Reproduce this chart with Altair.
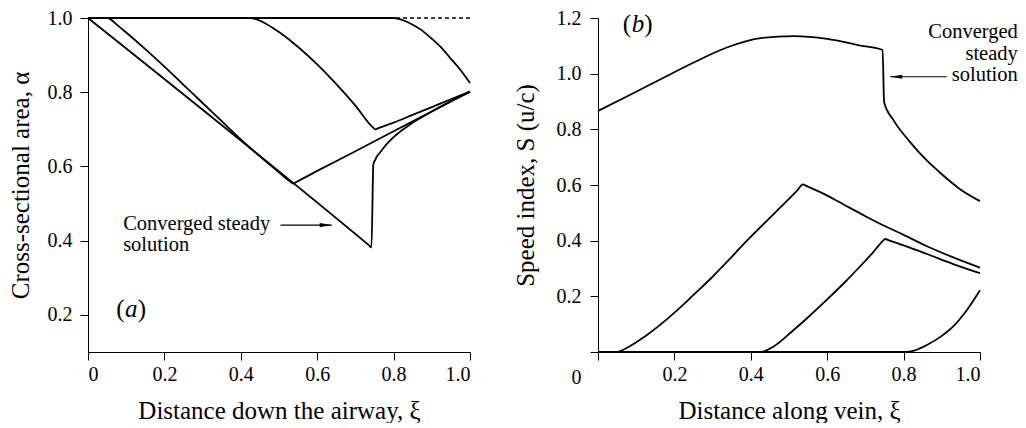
import altair as alt
import pandas as pd

FONT = "Liberation Serif"

# ---------------- Panel (a): cross-sectional area ----------------
xi_init = [0.0, 1.0]
alpha_init = [1.0, 1.0]

xi_a1 = [0.0, 0.8, 0.825, 0.85, 0.875, 0.9, 0.925, 0.95, 0.975, 1.0]
alpha_a1 = [1.0, 1.0, 0.994, 0.982, 0.966, 0.944, 0.92, 0.89, 0.86, 0.825]

xi_a2 = [0.0, 0.424, 0.44, 0.47, 0.5, 0.55, 0.6, 0.65, 0.7, 0.745, 0.752, 0.76, 0.8, 0.85, 0.9, 0.95, 1.0]
alpha_a2 = [1.0, 1.0, 0.997, 0.982, 0.962, 0.922, 0.875, 0.822, 0.764, 0.706, 0.700, 0.703, 0.718, 0.739, 0.760, 0.781, 0.802]

xi_a3 = [0.0, 0.05, 0.08, 0.1, 0.15, 0.2, 0.25, 0.3, 0.35, 0.4, 0.45, 0.5, 0.53, 0.537, 0.545, 0.6, 0.7, 0.8, 0.9, 1.0]
alpha_a3 = [1.0, 1.0, 0.978, 0.961, 0.916, 0.869, 0.82, 0.771, 0.722, 0.673, 0.627, 0.584, 0.559, 0.554, 0.558,
            0.588, 0.641, 0.695, 0.748, 0.802]

xi_aconv = [0.0, 0.735, 0.742, 0.747, 0.752, 0.757, 0.764, 0.78, 0.8, 0.843, 0.9, 0.95, 1.0]
alpha_aconv = [1.0, 0.388, 0.382, 0.606, 0.618, 0.628, 0.637, 0.658, 0.679, 0.713, 0.748, 0.776, 0.801]

# ---------------- Panel (b): speed index ----------------
xi_s1 = [0.0, 0.804, 0.83, 0.861, 0.9, 0.93, 0.96, 1.0]
s_s1 = [0.0, 0.0, 0.006, 0.025, 0.058, 0.092, 0.14, 0.222]

xi_s2 = [0.0, 0.426, 0.46, 0.513, 0.55, 0.6, 0.65, 0.687, 0.72, 0.745, 0.752, 0.76, 0.8, 0.861, 0.93, 1.0]
s_s2 = [0.0, 0.0, 0.02, 0.08, 0.125, 0.189, 0.256, 0.309, 0.358, 0.398, 0.406, 0.402, 0.383, 0.352, 0.316, 0.283]

xi_s3 = [0.0, 0.048, 0.08, 0.122, 0.165, 0.209, 0.25, 0.296, 0.34, 0.383, 0.43, 0.48, 0.52, 0.537, 0.545,
         0.6, 0.643, 0.7, 0.756, 0.8, 0.861, 0.93, 1.0]
s_s3 = [0.0, 0.0, 0.018, 0.055, 0.1, 0.152, 0.205, 0.265, 0.327, 0.39, 0.455, 0.523, 0.578, 0.602, 0.597,
        0.562, 0.53, 0.488, 0.449, 0.421, 0.38, 0.34, 0.303]

xi_sconv = [0.0, 0.078, 0.165, 0.252, 0.339, 0.426, 0.513, 0.6, 0.687, 0.745, 0.749,
            0.773, 0.816, 0.86, 0.903, 0.947, 1.0]
s_sconv = [0.866, 0.92, 0.981, 1.041, 1.095, 1.128, 1.135, 1.125, 1.101, 1.085, 0.897,
           0.834, 0.756, 0.689, 0.635, 0.586, 0.542]

# axis tick values
x_ticks = [0.0, 0.2, 0.4, 0.6, 0.8, 1.0]
a_ticks = [0.2, 0.4, 0.6, 0.8, 1.0]
s_ticks = [0.0, 0.2, 0.4, 0.6, 0.8, 1.0, 1.2]


def long_df(series):
    rows = []
    for name, xs, ys in series:
        for i, (x, y) in enumerate(zip(xs, ys)):
            rows.append({"series": name, "xi": x, "val": y, "ord": i})
    return pd.DataFrame(rows)


left_df = long_df([
    ("a1", xi_a1, alpha_a1),
    ("a2", xi_a2, alpha_a2),
    ("a3", xi_a3, alpha_a3),
    ("conv", xi_aconv, alpha_aconv),
])
left_init = pd.DataFrame({"xi": xi_init, "val": alpha_init})

right_df = long_df([
    ("s1", xi_s1, s_s1),
    ("s2", xi_s2, s_s2),
    ("s3", xi_s3, s_s3),
    ("conv", xi_sconv, s_sconv),
])

W, H = 382, 334

# ---- encodings ----
xL = alt.X("xi:Q", scale=alt.Scale(domain=[0, 1], nice=False),
           axis=alt.Axis(values=x_ticks, labelExpr="datum.value == 0 ? '0' : format(datum.value, '.1f')",
                         title="Distance down the airway, ξ", labelPadding=4, titlePadding=14))
yL = alt.Y("val:Q", scale=alt.Scale(domain=[0.1, 1.0], nice=False, zero=False),
           axis=alt.Axis(values=a_ticks, format=".1f", title="Cross-sectional area, α",
                         labelPadding=8, titlePadding=14))

xR = alt.X("xi:Q", scale=alt.Scale(domain=[0, 1], nice=False),
           axis=alt.Axis(values=x_ticks, labelExpr="datum.value == 0 ? '' : format(datum.value, '.1f')",
                         title="Distance along vein, ξ", labelPadding=4, titlePadding=14))
yR = alt.Y("val:Q", scale=alt.Scale(domain=[0, 1.2], nice=False),
           axis=alt.Axis(values=s_ticks, labelExpr="datum.value == 0 ? '' : format(datum.value, '.1f')",
                         title="Speed index, S (u/c)", labelPadding=9, titlePadding=18))

LINE = dict(color="black", strokeWidth=1.8, interpolate="monotone")
HEAD_R = "M0,0L-2,-0.35L-2,0.35Z"
HEAD_L = "M0,0L2,-0.35L2,0.35Z"


def texts(df, **kw):
    return alt.Chart(df).mark_text(font=FONT, color="black", baseline="alphabetic", **kw)


def panel_label(x, y, letter, xe, ye, size=25):
    d = pd.DataFrame({"xi": [x], "val": [y]})
    p1 = alt.Chart(d).mark_text(text="(", font=FONT, fontSize=size, align="left", baseline="alphabetic",
                                color="black").encode(x=xe, y=ye)
    p2 = alt.Chart(d).mark_text(text=letter, font=FONT, fontSize=size, fontStyle="italic", align="left",
                                baseline="alphabetic", dx=8.8, color="black").encode(x=xe, y=ye)
    p3 = alt.Chart(d).mark_text(text=")", font=FONT, fontSize=size, align="left", baseline="alphabetic",
                                dx=21.5, color="black").encode(x=xe, y=ye)
    return p1 + p2 + p3


# ---- left panel ----
l_init = alt.Chart(left_init).mark_line(color="black", strokeWidth=1.5, strokeDash=[4, 3]).encode(x=xL, y=yL)
l_lines = alt.Chart(left_df).mark_line(**LINE).encode(x=xL, y=yL, detail="series:N", order="ord:Q")

l_note = pd.DataFrame({"xi": [0.092, 0.092], "val": [0.4285, 0.373], "t": ["Converged steady", "solution"]})
l_note_t = texts(l_note, align="left", fontSize=20.5).encode(x=xL, y=yL, text="t:N")
l_arrow = pd.DataFrame({"xi": [0.504], "xi2": [0.638], "val": [0.442]})
l_arrow_r = alt.Chart(l_arrow).mark_rule(color="black", strokeWidth=1.1).encode(x=xL, x2="xi2:Q", y=yL)
l_head = pd.DataFrame({"xi": [0.638], "val": [0.442]})
l_arrow_h = alt.Chart(l_head).mark_point(shape=HEAD_R, filled=True, size=144, color="black", opacity=1,
                                         strokeWidth=0).encode(x=xL, y=yL)

left = alt.layer(l_init, l_lines, l_note_t, l_arrow_r, l_arrow_h,
                 panel_label(0.074, 0.193, "a", xL, yL)).properties(width=W, height=H)

# ---- right panel ----
r_lines = alt.Chart(right_df).mark_line(**LINE).encode(x=xR, y=yR, detail="series:N", order="ord:Q")
r_note = pd.DataFrame({"xi": [1.099, 1.099, 1.099], "val": [1.127, 1.049, 0.973],
                       "t": ["Converged", "steady", "solution"]})
r_note_t = texts(r_note, align="right", fontSize=20.5).encode(x=xR, y=yR, text="t:N")
r_arrow = pd.DataFrame({"xi": [0.765], "xi2": [0.913], "val": [0.989]})
r_arrow_r = alt.Chart(r_arrow).mark_rule(color="black", strokeWidth=1.1).encode(x=xR, x2="xi2:Q", y=yR)
r_head = pd.DataFrame({"xi": [0.765], "val": [0.989]})
r_arrow_h = alt.Chart(r_head).mark_point(shape=HEAD_L, filled=True, size=144, color="black", opacity=1,
                                         strokeWidth=0).encode(x=xR, y=yR)
r_zero = pd.DataFrame({"xi": [0.0], "val": [0.0], "t": ["0"]})
r_zero_t = texts(r_zero, align="right", fontSize=20, dx=-16.5, dy=31.5).encode(x=xR, y=yR, text="t:N")

right = alt.layer(r_lines, r_note_t, r_arrow_r, r_arrow_h, r_zero_t,
                  panel_label(0.065, 1.15, "b", xR, yR)).properties(width=W, height=H)

chart = alt.hconcat(left, right, spacing=39).properties(
    padding={"left": 0, "top": 0, "right": 0, "bottom": 0}
).configure_view(stroke=None).configure_axis(
    labelFont=FONT, titleFont=FONT, labelFontSize=20, titleFontSize=25, titleFontWeight="normal",
    labelColor="black", titleColor="black", domainColor="black", tickColor="black",
    tickSize=8, tickWidth=1, domainWidth=1, grid=False,
)

chart.save("out.html", embed_options={"renderer": "svg", "actions": False})
